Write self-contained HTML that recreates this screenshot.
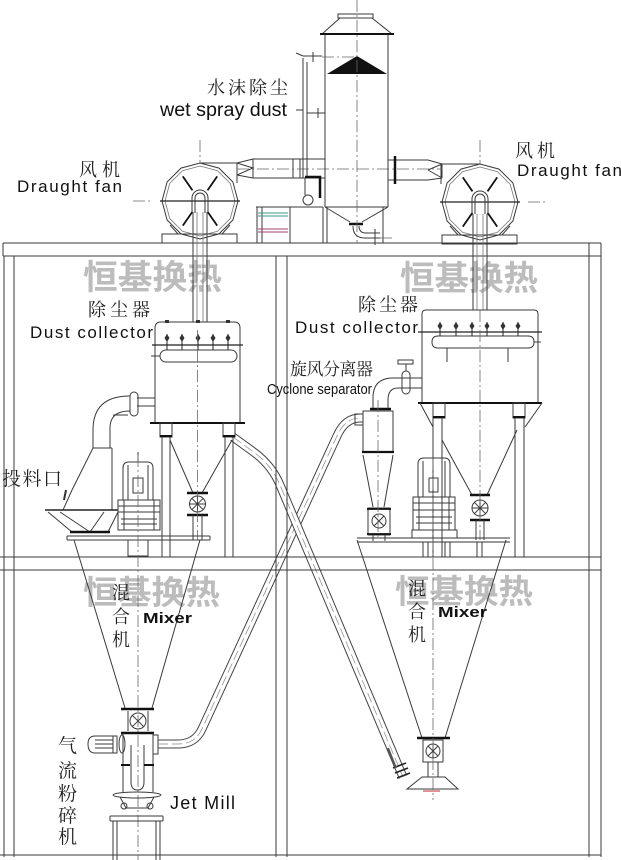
<!DOCTYPE html>
<html><head><meta charset="utf-8"><style>
html,body{margin:0;padding:0;background:#fff;}
svg{display:block;}
.l{fill:none;stroke:#3a3a3a;stroke-width:1;}
.g{fill:none;stroke:#777;stroke-width:0.8;}
.t{fill:none;stroke:#111;stroke-width:2.4;}
.c{fill:none;stroke:#666;stroke-width:0.8;stroke-dasharray:12 3 2 3;}
.en{font-family:"Liberation Sans",sans-serif;fill:#111;}
.cn{font-family:"Liberation Serif","Noto Serif CJK SC",serif;fill:#222;}
.wm{font-family:"Liberation Sans","Noto Sans CJK SC",sans-serif;fill:#bcbcbc;font-weight:bold;}
</style></head><body>
<svg width="621" height="860" viewBox="0 0 621 860" xmlns="http://www.w3.org/2000/svg">
<rect width="621" height="860" fill="#fff"/>
<defs>
<g id="fan">
<polygon class="l" points="0,-38 19,-32.9 32.9,-19 38,0 32.9,19 19,32.9 0,38 -19,32.9 -32.9,19 -38,0 -32.9,-19 -19,-32.9"/>
<polygon class="g" points="0,-35 17.5,-30.3 30.3,-17.5 35,0 30.3,17.5 17.5,30.3 0,35 -17.5,30.3 -30.3,17.5 -35,0 -30.3,-17.5 -17.5,-30.3"/>
<path d="M-7.5,-10.6 L-17.2,-24.6 M7.5,-10.6 L17.2,-24.6 M7.5,10.6 L17.2,24.6 M-7.5,10.6 L-17.2,24.6" stroke="#111" stroke-width="1.8" fill="none"/>
<path d="M-40,0 H40" stroke="#222" stroke-width="1.3"/>
<path d="M-8,12 V-3 A8,8 0 0 1 8,-3 V12 M-5,12 V-3 A5,5 0 0 1 5,-3 V12" class="l" fill="#fff"/>
<rect x="-38" y="33" width="75" height="9" fill="#fff" class="l"/>
<path d="M-30,24 L-22,33 M30,24 L22,33" class="l"/>
</g>
</defs>

<!-- watermarks -->
<text class="wm" x="83" y="289" font-size="34" textLength="139" lengthAdjust="spacingAndGlyphs">恒基换热</text>
<text class="wm" x="400" y="290" font-size="34" textLength="138" lengthAdjust="spacingAndGlyphs">恒基换热</text>
<text class="wm" x="83" y="604" font-size="33" textLength="137" lengthAdjust="spacingAndGlyphs">恒基换热</text>
<text class="wm" x="395" y="603" font-size="33" textLength="138" lengthAdjust="spacingAndGlyphs">恒基换热</text>

<!-- pipes -->
<g fill="none">
<path d="M158,744 L178,744 Q195,744 202,729 L337,436 Q345,418 360,418 L363,418" stroke="#444" stroke-width="9"/>
<path d="M158,744 L178,744 Q195,744 202,729 L337,436 Q345,418 360,418 L363,418" stroke="#fff" stroke-width="7"/>
<path d="M158,744 L178,744 Q195,744 202,729 L337,436 Q345,418 360,418 L363,418" stroke="#888" stroke-width="0.7" stroke-dasharray="10 4"/>
<path d="M233,437 L255,453 Q272,466 280,485 L403,777" stroke="#444" stroke-width="9"/>
<path d="M233,437 L255,453 Q272,466 280,485 L403,777" stroke="#fff" stroke-width="7"/>
<path d="M233,437 L255,453 Q272,466 280,485 L403,777" stroke="#888" stroke-width="0.7" stroke-dasharray="10 4"/>
<path d="M393,768 L406,763 M395,773 L408,768 M397,778 L410,773" stroke="#222" stroke-width="1.6"/>
<path d="M388,748 L396,768" stroke="#555" stroke-width="2"/>
</g>

<!-- frame -->
<g class="l" stroke-width="1.2">
<path d="M3,243 H601 M3,256 H601 M3,243 V256"/>
<path d="M4,256 V857 M14,256 V857"/>
<path d="M276,256 V857 M287,256 V857"/>
<path d="M589,243 V857 M601,243 V857"/>
<path d="M0,557 H601 M0,570 H601"/>
<path d="M0,855 H601"/>
</g>

<!-- fans -->
<use href="#fan" transform="translate(200,201)"/>
<path class="l" d="M200,163 H237 V183"/>
<path class="c" d="M133,201 H150 M200,140 V163"/>
<use href="#fan" transform="translate(480,202)"/>
<path class="l" d="M480,164 H441 V184"/>
<path class="c" d="M528,202 H546 M480,140 V164"/>

<!-- left duct -->
<path class="l" d="M237,163 L253,159 M237,175 L253,178 M237,163 V175 M237,163 L253,168 L237,175 M253,159 H325 M253,178 H325 M253,159 V178 M293,159 V178 M300,159 V178"/>
<!-- right duct -->
<path class="l" d="M388,160 H428 M388,180 H428 M428,160 L442,164 M428,180 L442,178 M442,164 V178 M428,170 L442,164 M428,170 L442,178"/>
<path d="M395,156 V184" stroke="#111" stroke-width="2.5"/>
<path class="c" d="M237,169 H442"/>

<!-- tower -->
<path class="l" d="M338,14 H373 V18 H338 Z M340,18 L322,34 M372,18 L392,34 M325,34 V207 M388,34 V207 M325,207 H388 M325,207 L350,222 M388,207 L362,222 M327,207 V243 M383,207 V243"/>
<path d="M320,34 H394" stroke="#111" stroke-width="2"/>
<polygon points="357,56 327,74 387,74" fill="#111"/>
<path d="M349,224 H363" stroke="#111" stroke-width="2.5"/>
<path class="l" d="M353,226 Q353,238 365,238 H380 M359,226 Q359,233 366,233 H380 M375,229 V245"/>
<path class="c" d="M380,238 H395 M357,0 V243"/>
<!-- side pipe -->
<path class="l" d="M303,58 V178 M307,62 V176 M303,56 H322 M313,52 V62 M296,53 L303,56 M307,113 H325 M318,108 V118 M296,110 H303"/>
<path class="c" d="M322,57 H357"/>
<path d="M305,177 H320 V198" stroke="#111" stroke-width="2.5" fill="none"/>
<circle cx="308" cy="200" r="5" class="l"/>
<path class="l" d="M305,178 V195 M300,207 H318"/>
<!-- stand -->
<path class="l" d="M256,207 H323 M257,207 V243 M262,207 V243 M290,207 V243 M323,207 V243"/>
<path d="M258,213 H288 M258,216 H288" stroke="#3a9a8a" stroke-width="1"/>
<path d="M258,229 H288 M258,232 H288" stroke="#a04070" stroke-width="1"/>

<!-- fan down pipes -->
<path class="l" d="M193,212 V322 M207,212 V322"/>
<path class="g" d="M197,212 V322 M203,212 V322"/>
<path class="l" d="M473,214 V310 M487,214 V310"/>
<path class="g" d="M477,214 V310 M483,214 V310"/>

<!-- left dust collector -->
<path class="l" d="M155,423 V328 Q155,322 161,322 H234 Q240,322 240,328 V423"/>
<path d="M150,423 H245" stroke="#111" stroke-width="2"/>
<path d="M152,345 H243" stroke="#222" stroke-width="1.3"/>
<rect x="160" y="350" width="77" height="12" rx="6" class="l"/>
<path class="l" d="M151,356 H160"/>
<g stroke="#222" stroke-width="1">
<path d="M167,334 V350 M182,334 V350 M198,334 V350 M213,334 V350 M228,334 V350"/>
</g>
<g fill="#333">
<polygon points="164.5,338 167,334 169.5,338 167,342"/><polygon points="179.5,338 182,334 184.5,338 182,342"/><polygon points="195.5,338 198,334 200.5,338 198,342"/><polygon points="210.5,338 213,334 215.5,338 213,342"/><polygon points="225.5,338 228,334 230.5,338 228,342"/>
<rect x="165" y="320" width="4" height="3"/><rect x="196" y="320" width="4" height="3"/><rect x="226" y="320" width="4" height="3"/>
</g>
<rect x="160" y="423" width="12" height="14" class="l"/><rect x="223" y="423" width="12" height="14" class="l"/>
<path d="M160,436 H172 M223,436 H235" stroke="#111" stroke-width="2"/>
<path class="l" d="M162,437 V557 M170,437 V557 M225,437 V557 M233,437 V557 M170,440 L193,493 M232,440 L202,493"/>
<path d="M187,493 H208 M187,515 H208" stroke="#111" stroke-width="2.4"/>
<circle cx="197.5" cy="504" r="8" class="l"/>
<path class="l" d="M191.8,498.3 L203.2,509.7 M203.2,498.3 L191.8,509.7 M197.5,496 V512 M189.5,504 H205.5 M193,515 V540 M202,515 V540"/>
<path class="c" d="M197.5,330 V540"/>
<!-- left side pipe -->
<path class="l" d="M137,398 H155 M137,406 H155 M130,396 Q93,396 93,430 V448 M130,411 Q110,411 110,428 V448 M113,415 H128"/>
<rect x="130" y="392" width="8" height="24" rx="4" class="l" fill="#fff"/>
<!-- feed hopper -->
<path class="l" d="M93,448 H112 M93,448 L72,490 L63,510 M112,448 V510 M48,512 L72,532 M118,512 L108,532 M60,512 L90,532 M104,512 L90,532"/>
<path d="M45,510 H118" stroke="#222" stroke-width="1.5"/>
<path d="M70,532 H110" stroke="#111" stroke-width="2.5"/>
<path d="M66,490 L64,500" stroke="#333" stroke-width="2"/>
<!-- left mixer motor -->
<path class="l" d="M123,500 V468 Q123,462 129,462 H147 Q153,462 153,468 V500 Z M128,465 V500 M148,465 V500 M138,452 V462"/>
<rect x="133" y="478" width="10" height="15" class="l"/>
<rect x="118" y="500" width="42" height="30" class="l"/>
<path class="l" d="M118,506 H160 M118,512 H160 M121,519 H157 M121,524 H157 M124,500 V530 M154,500 V530"/>
<path class="l" d="M67,536 H210 M67,540 H210 M67,536 V540 M210,536 V540"/>
<rect x="128" y="540" width="20" height="16" class="l"/>
<!-- left mixer cone -->
<path class="l" d="M74,540 L125,708 M200,540 L152,708"/>
<path class="c" d="M138,455 V860"/>
<!-- jet mill -->
<path d="M121,709 H154 M121,733 H154" stroke="#111" stroke-width="2.4"/>
<circle cx="138" cy="721" r="8" class="l"/>
<path class="l" d="M132.3,715.3 L143.7,726.7 M143.7,715.3 L132.3,726.7 M128,711 V731 M148,711 V731"/>
<path class="l" d="M117,736 H95 Q88,736 88,744 Q88,753 95,753 H117 Z M95,740 H113 M95,744 H113 M95,748 H113 M113,736 V753"/>
<ellipse cx="122" cy="744" rx="3" ry="9" class="l"/>
<path class="l" d="M123,733 V792 M153,733 V792 M131,745 V782 Q131,790 137.5,790 Q144,790 144,782 V745"/>
<path d="M121,765 H130 M144,765 H154" stroke="#111" stroke-width="2"/>
<rect x="153" y="735" width="5" height="19" class="l" fill="#fff"/>
<ellipse cx="137" cy="795" rx="24" ry="3" class="l"/>
<circle cx="124" cy="806" r="3" class="l"/><circle cx="150" cy="806" r="3" class="l"/>
<path class="l" d="M120,797 L126,808 M154,797 L148,808 M126,808 H148 M110,816 H163 M110,821 H163 M110,816 V821 M163,816 V821 M113,821 V860 M160,821 V860 M117,821 V860 M156,821 V860"/>

<!-- right dust collector -->
<path class="l" d="M422,403 V314 Q422,310 426,310 H534 Q538,310 538,314 V403"/>
<path d="M418,403 H542" stroke="#111" stroke-width="2"/>
<path d="M418,332 H542" stroke="#222" stroke-width="1.3"/>
<path class="l" d="M438,336 H528 Q534,336 534,342 Q534,348 528,348 H438 Q432,348 432,342 Q432,336 438,336 Z M534,342 H541 M447,348 V362 M508,348 V362"/>
<g stroke="#222" stroke-width="1"><path d="M440,322 V336 M456,322 V336 M472,322 V336 M487,322 V336 M503,322 V336 M518,322 V336"/></g>
<g fill="#333">
<polygon points="437.5,326 440,322 442.5,326 440,330"/><polygon points="453.5,326 456,322 458.5,326 456,330"/><polygon points="469.5,326 472,322 474.5,326 472,330"/><polygon points="484.5,326 487,322 489.5,326 487,330"/><polygon points="500.5,326 503,322 505.5,326 503,330"/><polygon points="515.5,326 518,322 520.5,326 518,330"/>
</g>
<rect x="433" y="403" width="12" height="15" class="l"/><rect x="513" y="403" width="12" height="15" class="l"/>
<path d="M433,417 H445 M513,417 H525" stroke="#111" stroke-width="2"/>
<path class="l" d="M420,403 L433,427 M542,403 L525,427 M433,418 V557 M442,418 V557 M515,418 V557 M524,418 V557 M442,440 L472,495 M517,430 L487,495"/>
<path d="M470,495 H490 M470,520 H490" stroke="#111" stroke-width="2.4"/>
<circle cx="480" cy="508" r="8" class="l"/>
<path class="l" d="M474.3,502.3 L485.7,513.7 M485.7,502.3 L474.3,513.7 M480,500 V516 M472,508 H488 M476,520 V540 M484,520 V540"/>
<path class="c" d="M480,310 V540"/>

<!-- cyclone -->
<path class="l" d="M373,408 V398 Q373,378 393,378 H422 M388,408 V400 Q388,388 398,388 H422"/>
<rect x="402" y="371" width="8" height="23" rx="4" class="l" fill="#fff"/>
<path class="l" d="M406,371 V364"/>
<rect x="398" y="360" width="15" height="4" class="l"/>
<path d="M370,409 H391" stroke="#111" stroke-width="2.4"/>
<path class="l" d="M363,411 H393 V452 H363 Z M355,414 H363 V425 H355 Z M363,455 L373,507 M393,455 L384,507"/>
<path d="M362,452 H394" stroke="#111" stroke-width="2.2"/>
<rect x="368" y="508" width="22" height="27" class="l"/>
<path d="M367,509 H391 M367,534 H391" stroke="#111" stroke-width="1.8"/>
<circle cx="379" cy="521" r="7" class="l"/>
<path class="l" d="M374,516 L384,526 M384,516 L374,526 M373,535 V541 M385,535 V541"/>
<path class="c" d="M378,400 V540"/>

<!-- right mixer motor -->
<path class="l" d="M418,497 V464 Q418,458 424,458 H444 Q450,458 450,464 V497 Z M423,461 V497 M445,461 V497"/>
<rect x="429" y="478" width="9" height="14" class="l"/>
<rect x="413" y="497" width="42" height="33" class="l"/>
<path class="l" d="M413,503 H455 M413,510 H455 M416,517 H452 M416,523 H452 M419,497 V530 M449,497 V530"/>
<rect x="412" y="530" width="45" height="8" class="l"/>
<path d="M357,538 H510 M357,542 H510" stroke="#333" stroke-width="1.1"/>
<path class="l" d="M423,542 V557 M428,542 V557 M445,542 V557 M450,542 V557 M477,542 V557 M482,542 V557"/>
<!-- right mixer cone -->
<path class="l" d="M357,540 L422,738 M506,540 L445,738"/>
<path d="M417,738 H450" stroke="#111" stroke-width="2.4"/>
<rect x="423" y="740" width="20" height="22" class="l"/>
<circle cx="433" cy="751" r="7" class="l"/>
<path class="l" d="M428,746 L438,756 M438,746 L428,756 M433,744 V758 M428,762 V777 M438,762 V777"/>
<polygon points="422,777 445,777 458,789 407,789" class="l" fill="#fff"/>
<path d="M423,791 H440" stroke="#c55" stroke-width="1.2"/>
<path class="c" d="M433,458 V800"/>

<!-- labels -->
<text class="cn" x="207" y="94" font-size="18" textLength="81" lengthAdjust="spacing">水沫除尘</text>
<text class="en" x="160" y="116" font-size="19" textLength="127" lengthAdjust="spacingAndGlyphs">wet spray dust</text>
<text class="cn" x="79" y="176" font-size="18" textLength="41" lengthAdjust="spacing">风机</text>
<text class="en" x="17" y="192" font-size="17" textLength="105" lengthAdjust="spacing">Draught fan</text>
<text class="cn" x="515" y="157" font-size="18" textLength="40" lengthAdjust="spacing">风机</text>
<text class="en" x="517" y="176" font-size="17" textLength="105" lengthAdjust="spacing">Draught fan</text>
<text class="cn" x="88" y="316" font-size="18" textLength="62" lengthAdjust="spacing">除尘器</text>
<text class="en" x="30" y="338" font-size="17" textLength="123" lengthAdjust="spacing">Dust collector</text>
<text class="cn" x="358" y="311" font-size="18" textLength="60" lengthAdjust="spacing">除尘器</text>
<text class="en" x="295" y="333" font-size="17" textLength="123" lengthAdjust="spacing">Dust collector</text>
<text class="cn" x="290" y="375" font-size="17" textLength="83" lengthAdjust="spacing">旋风分离器</text>
<text class="en" x="267" y="394" font-size="15" textLength="105" lengthAdjust="spacingAndGlyphs">Cyclone separator</text>
<text class="cn" x="2" y="485" font-size="19" textLength="60" lengthAdjust="spacing">投料口</text>
<text class="cn" x="112" y="599" font-size="18">混</text>
<text class="cn" x="112" y="623" font-size="18">合</text>
<text class="cn" x="112" y="646" font-size="18">机</text>
<text class="en" x="143" y="623" font-size="15" font-weight="bold" textLength="49" lengthAdjust="spacingAndGlyphs">Mixer</text>
<text class="cn" x="408" y="595" font-size="18">混</text>
<text class="cn" x="408" y="618" font-size="18">合</text>
<text class="cn" x="408" y="641" font-size="18">机</text>
<text class="en" x="438" y="617" font-size="15" font-weight="bold" textLength="49" lengthAdjust="spacingAndGlyphs">Mixer</text>
<text class="cn" x="58" y="752" font-size="19">气</text>
<text class="cn" x="58" y="777" font-size="19">流</text>
<text class="cn" x="58" y="800" font-size="19">粉</text>
<text class="cn" x="58" y="822" font-size="19">碎</text>
<text class="cn" x="58" y="843" font-size="19">机</text>
<text class="en" x="170" y="809" font-size="18" textLength="65" lengthAdjust="spacing">Jet Mill</text>
</svg>
</body></html>
